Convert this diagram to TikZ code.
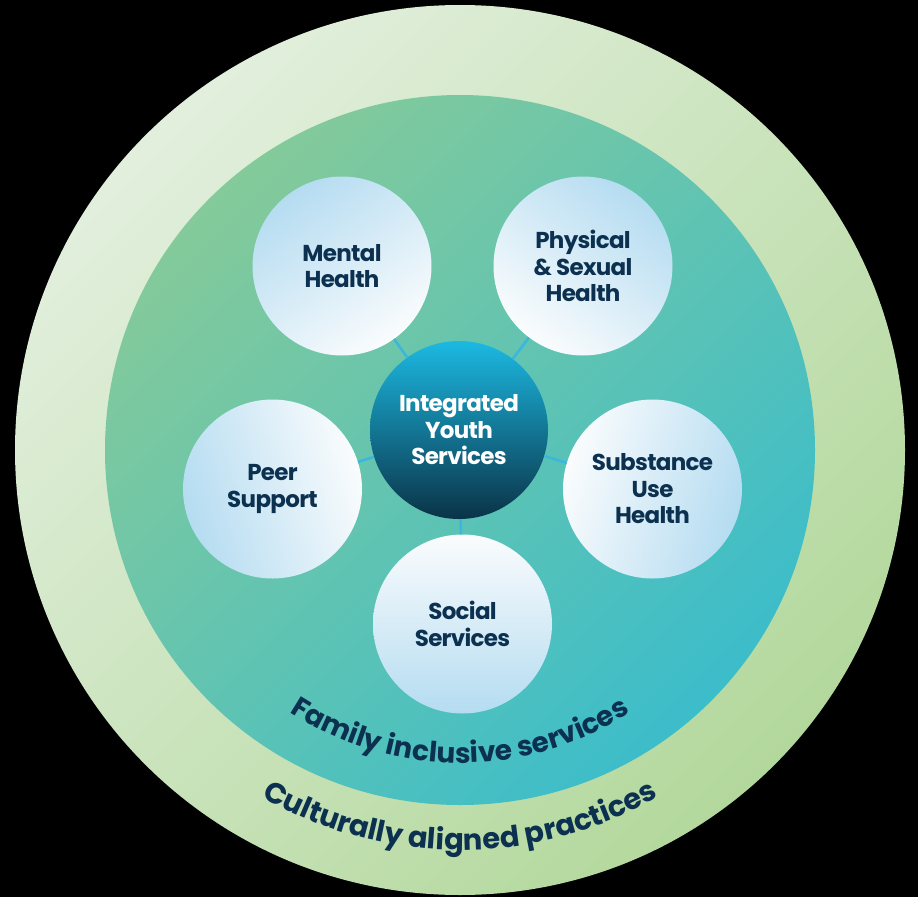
\documentclass[tikz,border=0pt]{standalone}
\usepackage{fontspec}
\newfontfamily\pop{Poppins}[LetterSpace=-3.0]
\newfontfamily\popr{Poppins}
\usetikzlibrary{decorations.text}
\definecolor{navy}{HTML}{0C3150}
\definecolor{ringA}{HTML}{E2EFDD}
\definecolor{ringB}{HTML}{B3D89C}
\definecolor{innA}{HTML}{84CA9A}
\definecolor{innB}{HTML}{3CBDCA}
\definecolor{satBlue}{HTML}{B5DCF1}
\definecolor{satWhite}{HTML}{FAFCFD}
\definecolor{cTop}{HTML}{1CB9E2}
\definecolor{cBot}{HTML}{0A3347}
\definecolor{connc}{HTML}{3BB6DE}
\begin{document}
\begin{tikzpicture}[x=1pt,y=1pt,
  sat/.style={circle, minimum size=179pt, inner sep=0pt, align=center, text=navy,
    font=\pop\bfseries\fontsize{23}{26.5}\selectfont,
    top color=satBlue, bottom color=satWhite},
  hub/.style={circle, minimum size=178pt, inner sep=0pt, align=center, text=white,
    font=\pop\bfseries\fontsize{23}{26.5}\selectfont,
    top color=cTop, bottom color=cBot},
  conn/.style={draw=connc, line width=2.6pt},
  ringtext/.style={decorate, decoration={text along path, text align=center, text color=navy}}
]
\useasboundingbox (0,0) rectangle (918,-897);
\fill[black] (0,0) rectangle (918,-897);
\coordinate (o) at (460,-450);
\shade[top color=ringA, bottom color=ringB, shading angle=45] (o) circle[radius=445];
\shade[top color=innA, bottom color=innB, shading angle=45] (o) circle[radius=355];

\node[hub] (c) at (459,-430) {Integrated\\Youth\\Services};
\node[sat, shading angle=35] (mh) at (342,-266) {Mental\\Health};
\node[sat, shading angle=-37] (ps) at (583,-266) {Physical\\\& Sexual\\Health};
\node[sat, shading angle=107] (pe) at (272.5,-489) {Peer\\Support};
\node[sat, shading angle=-107] (su) at (652.5,-489) {Substance\\Use\\Health};
\node[sat, shading angle=180] (so) at (462.5,-624) {Social\\Services};

\foreach \s in {mh,ps,pe,su,so} \draw[conn] (c) -- (\s);

\path[ringtext, decoration={text={|\popr\bfseries\fontsize{28}{30}\selectfont|Family inclusive services}}]
  (o) ++(200:313) arc[start angle=200, end angle=340, radius=313];
\path[ringtext, decoration={text={|\popr\bfseries\fontsize{29}{32}\selectfont|Culturally aligned practices}}]
  (o) ++(200:400) arc[start angle=200, end angle=340, radius=400];
\end{tikzpicture}
\end{document}
